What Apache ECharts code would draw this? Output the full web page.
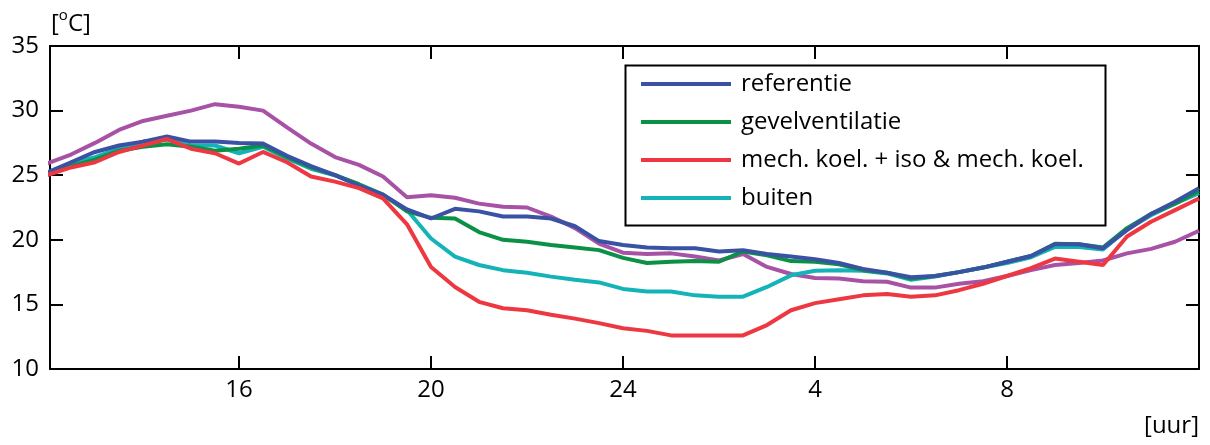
<!DOCTYPE html>
<html>
<head>
<meta charset="utf-8">
<script src="https://cdn.jsdelivr.net/npm/echarts@6/dist/echarts.min.js"></script>
<style>
  html, body { margin: 0; padding: 0; background: #fff; }
  #chart { width: 1210px; height: 445px; }
</style>
</head>
<body>
<div id="chart"></div>
<script>
// Temperatuurverloop over 24 uur (12:00 tot 12:00 volgende dag), halfuurwaarden
const hours = [];
for (let h = 12; h <= 36; h += 0.5) hours.push(h);

const tickHours = [16, 20, 24, 28, 32];
const tickLabels = ['16', '20', '24', '4', '8'];

const referentie = [25.2, 26.0, 26.8, 27.3, 27.6, 28.0, 27.6, 27.6, 27.5, 27.45, 26.5, 25.7, 25.0, 24.2, 23.5, 22.35, 21.65, 22.4, 22.2, 21.8, 21.8, 21.65, 21.05, 19.9, 19.6, 19.4, 19.35, 19.35, 19.1, 19.2, 18.9, 18.7, 18.5, 18.2, 17.75, 17.45, 17.1, 17.2, 17.5, 17.85, 18.3, 18.75, 19.65, 19.65, 19.35, 20.75, 22.0, 22.95, 24.0];
const gevelventilatie = [25.2, 25.7, 26.2, 26.9, 27.2, 27.4, 27.2, 26.9, 27.05, 27.3, 26.4, 25.6, 25.0, 24.3, 23.5, 22.2, 21.7, 21.65, 20.6, 20.0, 19.85, 19.6, 19.4, 19.2, 18.6, 18.2, 18.3, 18.35, 18.3, 19.1, 18.8, 18.35, 18.3, 18.1, 17.65, 17.45, 17.0, 17.2, 17.5, 17.85, 18.3, 18.75, 19.7, 19.65, 19.4, 20.9, 22.0, 22.8, 23.8];
const mechKoeling = [25.0, 25.6, 26.0, 26.8, 27.3, 27.8, 27.05, 26.7, 25.9, 26.8, 26.0, 24.9, 24.5, 24.0, 23.2, 21.2, 17.9, 16.35, 15.2, 14.7, 14.55, 14.2, 13.9, 13.55, 13.15, 12.95, 12.6, 12.6, 12.6, 12.6, 13.4, 14.55, 15.1, 15.4, 15.7, 15.8, 15.6, 15.7, 16.1, 16.6, 17.2, 17.8, 18.55, 18.3, 18.05, 20.25, 21.4, 22.3, 23.2];
const buiten = [25.2, 25.9, 26.4, 27.05, 27.6, 27.75, 27.3, 27.3, 26.7, 27.2, 26.3, 25.5, 25.0, 24.2, 23.45, 22.3, 20.1, 18.7, 18.05, 17.65, 17.45, 17.15, 16.9, 16.7, 16.2, 16.0, 16.0, 15.7, 15.6, 15.6, 16.35, 17.25, 17.6, 17.65, 17.6, 17.4, 16.9, 17.15, 17.5, 17.85, 18.2, 18.65, 19.45, 19.45, 19.25, 20.8, 21.9, 22.8, 23.6];
const isolatie = [25.9, 26.6, 27.5, 28.5, 29.2, 29.6, 30.0, 30.5, 30.3, 30.0, 28.7, 27.45, 26.4, 25.8, 24.9, 23.3, 23.45, 23.25, 22.8, 22.55, 22.5, 21.8, 20.9, 19.7, 19.0, 18.9, 18.95, 18.7, 18.4, 18.9, 17.9, 17.35, 17.05, 17.0, 16.8, 16.75, 16.3, 16.3, 16.6, 16.8, 17.2, 17.65, 18.05, 18.2, 18.4, 18.95, 19.3, 19.85, 20.7];

const FONT = 'Open Sans';
const FS = 24;
const pair = arr => hours.map((h, i) => [h, arr[i]]);

const lines = [
  { name: 'isolatie', data: isolatie, color: '#a852a6' },
  { name: 'buiten', data: buiten, color: '#14b3b7' },
  { name: 'gevelventilatie', data: gevelventilatie, color: '#0b9146' },
  { name: 'referentie', data: referentie, color: '#3a52a3' },
  { name: 'mech. koel. + iso & mech. koel.', data: mechKoeling, color: '#ee3841' }
];

const axisLine = { show: true, lineStyle: { color: '#000', width: 2 } };
const tick = { show: true, inside: true, length: 13, lineStyle: { color: '#000', width: 2 } };

const chart = echarts.init(document.getElementById('chart'), null, { renderer: 'canvas' });
chart.setOption({
  animation: false,
  backgroundColor: '#fff',
  grid: { left: 50, top: 46, width: 1149, height: 323, containLabel: false },
  xAxis: [
    {
      type: 'value', min: 12.0625, max: 36, position: 'bottom',
      axisLine: axisLine,
      axisTick: Object.assign({ customValues: tickHours }, tick),
      axisLabel: {
        customValues: tickHours, color: '#000', fontFamily: FONT, fontSize: FS, margin: 9,
        formatter: v => tickLabels[tickHours.indexOf(v)]
      },
      splitLine: { show: false }
    },
    {
      type: 'value', min: 12.0625, max: 36, position: 'top',
      axisLine: axisLine,
      axisTick: Object.assign({ customValues: tickHours }, tick),
      axisLabel: { show: false },
      splitLine: { show: false }
    }
  ],
  yAxis: [
    {
      type: 'value', min: 10, max: 35, interval: 5, position: 'left',
      axisLine: axisLine, axisTick: tick,
      axisLabel: { color: '#000', fontFamily: FONT, fontSize: FS, margin: 11 },
      splitLine: { show: false }
    },
    {
      type: 'value', min: 10, max: 35, interval: 5, position: 'right',
      axisLine: axisLine, axisTick: tick,
      axisLabel: { show: false },
      splitLine: { show: false }
    }
  ],
  legend: {
    data: ['referentie', 'gevelventilatie', 'mech. koel. + iso & mech. koel.', 'buiten'],
    orient: 'vertical',
    left: 641, top: 72,
    padding: 0,
    itemGap: 14,
    itemWidth: 90, itemHeight: 4,
    icon: 'rect',
    selectedMode: false,
    textStyle: { color: '#000', fontFamily: FONT, fontSize: FS, lineHeight: 24, padding: [0, 0, 0, 5] }
  },
  graphic: [
    {
      type: 'rect', left: 623, top: 63, z: 10, silent: true,
      shape: { width: 480, height: 160 },
      style: { fill: 'none', stroke: '#000', lineWidth: 2 }
    },
    {
      type: 'text', left: 51, top: 8, silent: true,
      style: {
        text: '{b|[}{s|o}{b|C]}',
        fill: '#000',
        rich: {
          b: { fontFamily: FONT, fontSize: FS, lineHeight: 28, verticalAlign: 'bottom' },
          s: { fontFamily: FONT, fontSize: 15, lineHeight: 15, verticalAlign: 'top' }
        }
      }
    },
    {
      type: 'text', right: 11, top: 414, silent: true,
      style: { text: '[uur]', fill: '#000', fontFamily: FONT, fontSize: FS }
    }
  ],
  series: lines.map(s => ({
    name: s.name,
    type: 'line',
    data: pair(s.data),
    showSymbol: false,
    symbol: 'none',
    color: s.color,
    lineStyle: { width: 4, color: s.color },
    xAxisIndex: 0, yAxisIndex: 0,
    z: 2
  }))
});
</script>
</body>
</html>
